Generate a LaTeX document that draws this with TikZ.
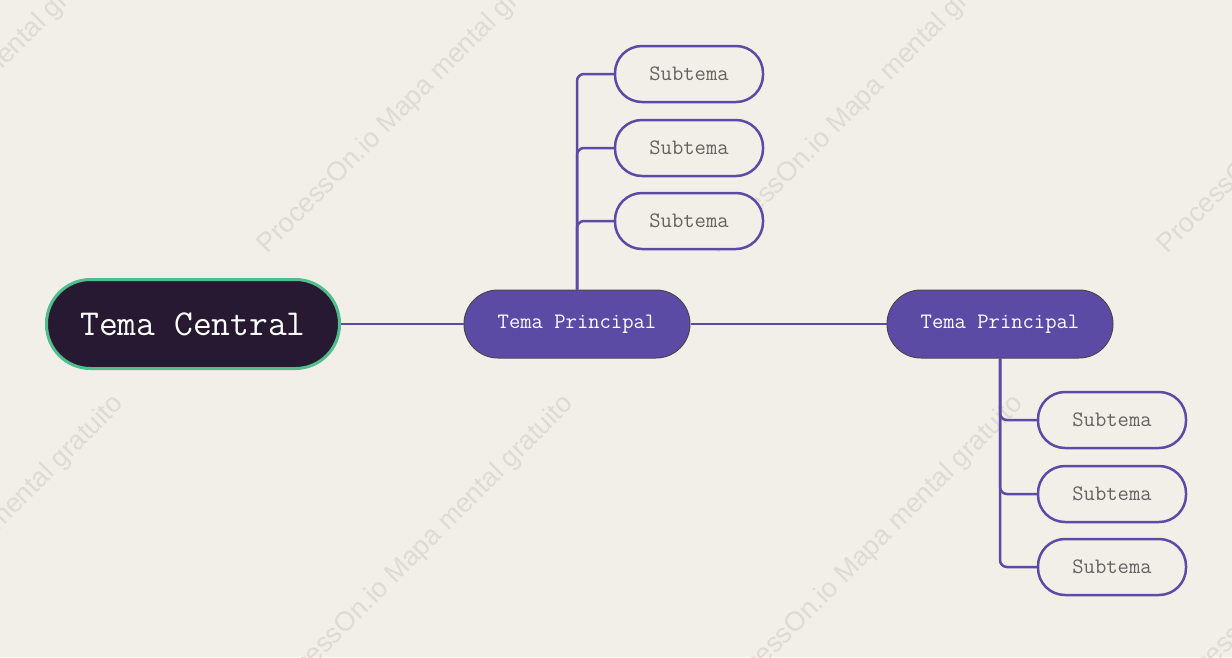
\documentclass[tikz,border=0pt]{standalone}
\usepackage{fontspec}
\newfontfamily\marcafont{Liberation Sans}
\usetikzlibrary{positioning}
\definecolor{fondo}{HTML}{F2EFE9}
\definecolor{morado}{HTML}{5C4BA5}
\definecolor{oscuro}{HTML}{281933}
\definecolor{verde}{HTML}{4FBE8B}
\definecolor{borde}{HTML}{4A4650}
\definecolor{gristexto}{HTML}{666462}
\definecolor{marca}{HTML}{DEDBD5}

\begin{document}
\begin{tikzpicture}[x=1pt,y=-1pt,
    central/.style={draw=verde, line width=3pt, fill=oscuro, text=white,
        rounded corners=44pt, minimum width=293pt, minimum height=89pt,
        font=\ttfamily\fontsize{36.5}{36.5}\selectfont},
    principal/.style={draw=borde, line width=1pt, fill=morado, text=white,
        rounded corners=34pt, minimum width=226pt, minimum height=68pt,
        font=\ttfamily\fontsize{22}{22}\selectfont},
    subtema/.style={draw=morado, line width=2.5pt, fill=fondo, text=gristexto,
        rounded corners=27pt, minimum width=148pt, minimum height=56pt,
        font=\ttfamily\fontsize{22}{22}\selectfont},
    rama/.style={draw=morado, line width=2.5pt},
    marcaagua/.style={text=marca, rotate=45, font=\marcafont\fontsize{27}{27}\selectfont}]
                    \clip (0,0) rectangle (1232,657);
                    \fill[fondo] (0,0) rectangle (1232,657);
                    \foreach \x in {-38,412,862,1312}{
                        \node[marcaagua] at (\x,100) {ProcessOn.io Mapa mental gratuito};
                        \node[marcaagua] at ({\x+8},550) {ProcessOn.io Mapa mental gratuito};
                    }
                    \node[central] (central) at (193,324) {Tema Central};
                    \node[principal] (p1) at (577,324) {Tema Principal};
                    \node[principal] (p2) at (1000,324) {Tema Principal};
                    \foreach \n/\y in {1/74,2/148,3/221}{
                        \node[subtema] (a\n) at (689,\y) {Subtema};
                        \draw[rama, rounded corners=7pt] (p1.north) |- (a\n.west);
                    }
                    \foreach \n/\y in {1/420,2/494,3/567}{
                        \node[subtema] (b\n) at (1112,\y) {Subtema};
                        \draw[rama, rounded corners=7pt] (p2.south) |- (b\n.west);
                    }
                    \draw[rama] (central) -- (p1);
                    \draw[rama] (p1) -- (p2);
                \end{tikzpicture}
\end{document}
